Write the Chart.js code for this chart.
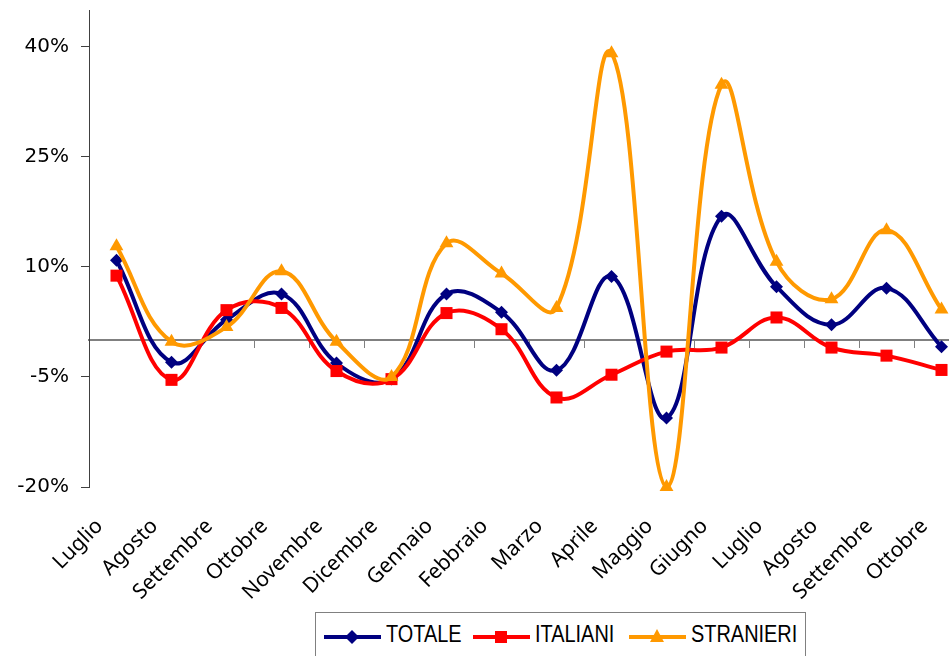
<!DOCTYPE html>
<html>
<head>
<meta charset="utf-8">
<script src="https://cdn.jsdelivr.net/npm/chart.js@4"></script>
<style>
  html, body { margin: 0; padding: 0; background: #fff; overflow: hidden; }
  #wrap { position: relative; width: 980px; height: 656px; }
  #legend {
    position: absolute; left: 315px; top: 612px; width: 489px; height: 60px;
    border: 1px solid #808080; background: #fff;
    font-family: 'Liberation Sans Narrow', 'Liberation Sans', sans-serif; font-size: 24px; color: #000;
  }
  #legend .item { position: absolute; top: 6px; height: 30px; line-height: 30px; white-space: nowrap; }
  #legend svg { position: absolute; top: 7px; left: 0; }
  #legend span { position: absolute; left: 62px; top: 0; transform: scaleX(0.83); transform-origin: 0 50%; }
</style>
</head>
<body>
<div id="wrap">
  <canvas id="myChart" width="980" height="656"></canvas>
  <div id="legend"></div>
</div>
<script>
// dati
const mesi = ['Luglio','Agosto','Settembre','Ottobre','Novembre','Dicembre','Gennaio','Febbraio',
  'Marzo','Aprile','Maggio','Giugno','Luglio','Agosto','Settembre','Ottobre'];
const totale    = [10.9, -3.0, 2.8, 6.3, -3.1, -5.3, 6.3, 3.8, -4.1, 8.7, -10.6, 16.9, 7.3, 2.1, 7.1, -0.9];
const italiani  = [8.8, -5.4, 4.1, 4.4, -4.2, -5.3, 3.7, 1.5, -7.8, -4.7, -1.55, -1.0, 3.1, -1.0, -2.1, -4.05];
const stranieri = [12.8, -0.2, 1.8, 9.4, -0.2, -5.0, 13.2, 9.1, 4.4, 39.1, -20.0, 34.8, 10.7, 5.6, 15.0, 4.2];
const yTicks = [-20, -5, 10, 25, 40];

const serie = [
  { label: 'TOTALE', data: totale, color: '#000080', point: 'rectRot', r: 6.5, order: 2 },
  { label: 'ITALIANI', data: italiani, color: '#FF0000', point: 'rect', r: 8.5, order: 1 },
  { label: 'STRANIERI', data: stranieri, color: '#FF9900', point: 'triangle', r: 8, order: 0 }
];

const data = {
  labels: mesi,
  datasets: serie.map(s => ({
    label: s.label,
    data: s.data,
    borderColor: s.color,
    backgroundColor: s.color,
    borderWidth: 4,
    pointStyle: s.point,
    pointRadius: s.r,
    pointBorderWidth: 0,
    pointBackgroundColor: s.color,
    tension: 0.4,
    clip: false,
    order: s.order
  }))
};

const config = {
  type: 'line',
  data,
  options: {
    responsive: false,
    animation: false,
    layout: { padding: { top: 10, right: 11, left: 0, bottom: 0 } },
    plugins: { legend: { display: false }, tooltip: { enabled: false } },
    scales: {
      x: {
        offset: true,
        grid: { display: false },
        border: { display: false },
        ticks: {
          autoSkip: false, minRotation: 45, maxRotation: 45,
          padding: 19, labelOffset: -17,
          color: '#000', font: { family: 'Noto Sans', size: 21 }
        },
        afterFit: s => { s.height = 169; s.paddingLeft = 0; s.paddingRight = 0; }
      },
      x2: {
        axis: 'x',
        type: 'category',
        labels: mesi,
        position: { y: 0 },
        offset: true,
        grid: { offset: true, drawOnChartArea: false, drawTicks: true, tickLength: 7, color: '#808080', lineWidth: 1 },
        border: { display: true, color: '#808080', width: 2 },
        ticks: { display: false }
      },
      y: {
        min: -20, max: 45,
        grid: { drawOnChartArea: false, drawTicks: true, tickLength: 8, color: '#404040' },
        border: { display: true, color: '#404040', width: 1 },
        ticks: {
          padding: 12, color: '#000',
          font: { family: 'DejaVu Sans', size: 20 },
          callback: v => v + '%'
        },
        afterBuildTicks: s => { s.ticks = yTicks.map(v => ({ value: v })); },
        afterFit: s => { s.width = 89; s.paddingTop = 0; s.paddingBottom = 0; }
      }
    }
  }
};

const myChart = new Chart(document.getElementById('myChart'), config);

// legenda
const leg = document.getElementById('legend');
const pos = [8, 157, 313];
serie.forEach((s, i) => {
  let mark = '';
  if (s.point === 'rectRot') mark = `<polygon points="28,4 35,11 28,18 21,11" fill="${s.color}"/>`;
  if (s.point === 'rect') mark = `<rect x="22" y="5" width="12" height="12" fill="${s.color}"/>`;
  if (s.point === 'triangle') mark = `<polygon points="28,3 35,16 21,16" fill="${s.color}"/>`;
  const d = document.createElement('div');
  d.className = 'item';
  d.style.left = pos[i] + 'px';
  d.innerHTML = `<svg width="58" height="22"><line x1="0" y1="11" x2="57" y2="11" stroke="${s.color}" stroke-width="4"/>${mark}</svg><span>${s.label}</span>`;
  leg.appendChild(d);
});
</script>
</body>
</html>
